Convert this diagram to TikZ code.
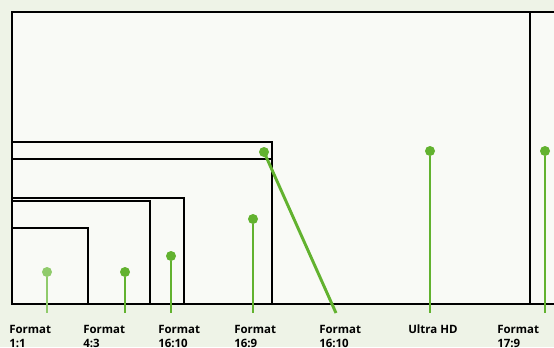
\documentclass[tikz,border=0pt]{standalone}
\usepackage{fontspec}
\setsansfont{Open Sans}
\usetikzlibrary{positioning}
\definecolor{fmgreen}{HTML}{62B22F}
\definecolor{fmlight}{HTML}{90CB6B}
\definecolor{fmbg}{HTML}{EEF3E7}
\definecolor{fmpaper}{HTML}{F9FAF6}

\begin{document}
\begin{tikzpicture}[
  x=0.75pt, y=-0.75pt,
  font=\sffamily,
  line join=miter,
  frame/.style={draw=black, fill=fmpaper, line width=1.8pt},
  dot/.style={circle, fill=fmgreen, inner sep=0pt, minimum size=7.5pt},
  stem/.style={draw=fmgreen, line width=1.9pt},
  lab/.style={font=\fontsize{8.6}{10.5}\selectfont\sffamily\bfseries, align=left,
    anchor=north west, inner sep=0pt},
]
\useasboundingbox (0,0) rectangle (554,347);
\clip (0,0) rectangle (554,347);
\fill[fmbg] (0,0) rectangle (554,347);

% screen frames, largest first
\draw[frame] (12,12) rectangle (600,304);  % 17:9
\draw[frame] (12,12) rectangle (530,304);  % Ultra HD
\draw[frame] (12,142) rectangle (272,304); % 16:10
\draw[frame] (12,159) rectangle (272,304); % 16:9
\draw[frame] (12,198) rectangle (184,304); % 16:10
\draw[frame] (12,201) rectangle (150,304); % 4:3
\draw[frame] (12,228) rectangle (88,304);  % 1:1

% markers
\node[dot, fill=fmlight] (m1) at (47,272) {};
\node[dot] (m2) at (125,272) {};
\node[dot] (m3) at (171,256) {};
\node[dot] (m4) at (253,219) {};
\node[dot] (m5) at (264,152) {};
\node[dot] (m6) at (430,151) {};
\node[dot] (m7) at (545,151) {};

\coordinate (e1) at (47,313);
\coordinate (e2) at (125,313);
\coordinate (e3) at (171,313);
\coordinate (e4) at (253,313);
\coordinate (e5) at (336,313);
\coordinate (e6) at (430,313);
\coordinate (e7) at (545,313);

\draw[stem, draw=fmlight] (m1) -- (e1);
\draw[stem] (m2) -- (e2);
\draw[stem] (m3) -- (e3);
\draw[stem] (m4) -- (e4);
\draw[stem, line width=2.2pt] (m5.center) -- (e5);
\draw[stem] (m6) -- (e6);
\draw[stem] (m7) -- (e7);

% labels
\node[lab] (l1) at (9,325) {Format\\1:1};
\node[lab] (l2) at (83,325) {Format\\4:3};
\node[lab] (l3) at (158,325) {Format\\16:10};
\node[lab] (l4) at (234,325) {Format\\16:9};
\node[lab] (l5) at (319,325) {Format\\16:10};
\node[lab] (l6) at (408,325) {Ultra HD};
\node[lab] (l7) at (497,325) {Format\\17:9};
\end{tikzpicture}
\end{document}
